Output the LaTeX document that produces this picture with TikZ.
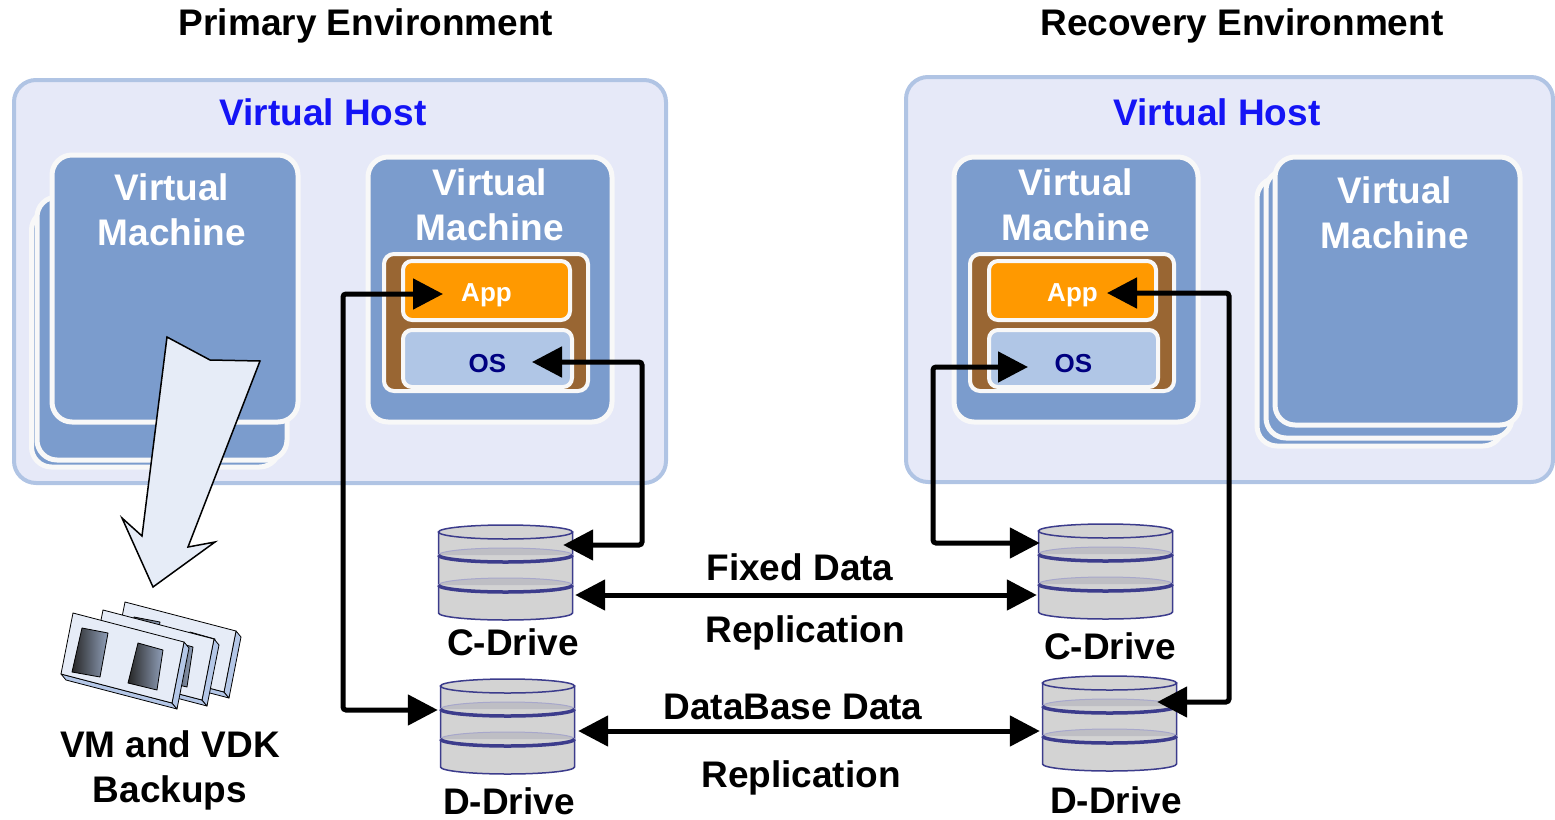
\documentclass[tikz,border=0pt]{standalone}
\usepackage{fontspec}
\setmainfont{Liberation Sans}
\usetikzlibrary{arrows.meta,calc,positioning}

\definecolor{hostfill}{RGB}{230,233,248}
\definecolor{hostedge}{RGB}{176,196,228}
\definecolor{vmblue}{RGB}{123,156,205}
\definecolor{vmedge}{RGB}{248,248,248}
\definecolor{stackbrown}{RGB}{153,102,51}
\definecolor{apporange}{RGB}{255,153,0}
\definecolor{osfill}{RGB}{176,198,230}
\definecolor{osnavy}{RGB}{0,0,128}
\definecolor{hostblue}{RGB}{20,20,245}
\definecolor{diskgrey}{RGB}{211,211,211}
\definecolor{diskband}{RGB}{190,190,196}
\definecolor{diskedge}{RGB}{60,60,140}
\definecolor{tapeface}{RGB}{230,236,247}
\definecolor{tapeside}{RGB}{180,199,231}

\newcommand{\bigfont}{\fontsize{37}{45}\selectfont\bfseries}
\newcommand{\smallfont}{\fontsize{26}{30}\selectfont\bfseries}

\tikzset{
  host/.style={draw=hostedge, fill=hostfill, line width=4pt, rounded corners=22pt},
  vmcard/.style={draw=vmedge, fill=vmblue, line width=5pt, rounded corners=20pt},
  vmtxt/.style={text=white, font=\bigfont, align=center, inner sep=0pt},
  layerbox/.style={draw=vmedge, fill=stackbrown, line width=4pt, rounded corners=10pt},
  appbox/.style={draw=vmedge, fill=apporange, line width=4pt, rounded corners=9pt,
    text=white, font=\smallfont, text height=21pt, text depth=0pt},
  osbox/.style={draw=vmedge, fill=osfill, line width=4pt, rounded corners=9pt,
    text=osnavy, font=\smallfont, text height=27pt, text depth=0pt},
  lbl/.style={font=\bigfont, inner sep=0pt, align=center},
  drivebox/.style={minimum width=135pt, minimum height=95pt, inner sep=0pt},
  dlink/.style={line width=5pt, rounded corners=3pt,
    arrows={Triangle[length=30pt,width=30pt]-Triangle[length=30pt,width=30pt]}},
  tapeline/.style={draw=black, line width=0.8pt, line join=round}
}

% disk cylinder: name, centre x, y of the top rim
\newcommand{\drive}[3]{%
  \node[drivebox] (#1) at (#2,#3-40) {};
  \begin{scope}[shift={(#2,#3)}]
    \filldraw[fill=diskgrey, draw=diskedge, line width=1.5pt]
      (-67,0) -- (-67,-81) arc[start angle=180, end angle=360, x radius=67pt, y radius=7pt]
      -- (67,0) -- cycle;
    \foreach \d in {23,53} {
      \filldraw[fill=diskband, draw=diskedge!45, line width=1pt]
        (-67,-\d) arc[start angle=180, end angle=0, x radius=67pt, y radius=7pt];
      \draw[diskedge, line width=3.5pt]
        (-67,-\d) arc[start angle=180, end angle=360, x radius=67pt, y radius=7pt];
    }
    \filldraw[fill=diskgrey, draw=diskedge, line width=1.5pt]
      (0,0) ellipse[x radius=67pt, y radius=7pt];
  \end{scope}
}

% backup cassette, shifted by #1
\newcommand{\tape}[1]{%
  \begin{scope}[shift={#1}]
    \filldraw[tapeline, fill=tapeside] (-12,-61) -- (99,-90) -- ++(5,-6) -- (-7,-67) -- cycle;
    \filldraw[tapeline, fill=tapeside] (111,-29) -- (99,-90) -- ++(5,-6) -- (116,-35) -- cycle;
    \filldraw[tapeline, fill=tapeface] (0,0) -- (111,-29) -- (99,-90) -- (-12,-61) -- cycle;
    \shade[left color=black!85, right color=black!20!tapeside]
      (9,-15) -- (35,-20) -- (27,-64) -- (-1,-59) -- cycle;
    \shade[left color=black!85, right color=black!20!tapeside]
      (65,-30) -- (90,-37) -- (84,-77) -- (55,-70) -- cycle;
    \draw[tapeline] (9,-15) -- (35,-20) -- (27,-64) -- (-1,-59) -- cycle;
    \draw[tapeline] (65,-30) -- (90,-37) -- (84,-77) -- (55,-70) -- cycle;
  \end{scope}
}

\begin{document}
\begin{tikzpicture}[x=1pt, y=1pt]
  \useasboundingbox (0,0) rectangle (1555,-819);

  % titles
  \node[lbl] (primT) at (366,-26) {Primary Environment};
  \node[lbl] (recT) at (1242,-26) {Recovery Environment};

  % hosts
  \node[host, minimum width=652pt, minimum height=403pt] (hostL) at (340,-281.5) {};
  \node[host, minimum width=647pt, minimum height=405pt] (hostR) at (1229.5,-279.5) {};
  \node[lbl, text=hostblue] (hostLt) at (323,-112) {Virtual Host};
  \node[lbl, text=hostblue] (hostRt) at (1217,-112) {Virtual Host};

  % left stack of machines
  \node[vmcard, minimum width=248pt, minimum height=257pt] (vmL2) at (155.5,-338.5) {};
  \node[vmcard, minimum width=250pt, minimum height=263pt] (vmL1) at (162,-328.5) {};
  \node[vmcard, minimum width=246pt, minimum height=267pt] (vmL) at (175,-288.5) {};
  \node[vmtxt] (vmLt) at (172,-209.5) {Virtual\\Machine};

  % right stack of machines
  \node[vmcard, minimum width=246pt, minimum height=268pt] (vmS2) at (1380,-312) {};
  \node[vmcard, minimum width=246pt, minimum height=268pt] (vmS1) at (1389,-304) {};
  \node[vmcard, minimum width=245pt, minimum height=268pt] (vmS) at (1397.5,-291) {};
  \node[vmtxt] (vmSt) at (1395,-213) {Virtual\\Machine};

  % machines running the application
  \node[vmcard, minimum width=244pt, minimum height=265pt] (vmA) at (490,-289.5) {};
  \node[vmtxt] (vmAt) at (490,-205) {Virtual\\Machine};
  \node[layerbox, minimum width=204pt, minimum height=137pt] (layL) at (486,-322.5) {};
  \node[appbox, minimum width=167pt, minimum height=59pt] (appL) at (486.5,-290.5) {App};
  \node[osbox, minimum width=169pt, minimum height=57pt] (osL) at (487.5,-358.5) {OS};

  \node[vmcard, minimum width=244pt, minimum height=265pt] (vmB) at (1076,-289.5) {};
  \node[vmtxt] (vmBt) at (1076,-205) {Virtual\\Machine};
  \node[layerbox, minimum width=204pt, minimum height=137pt] (layR) at (1072,-322.5) {};
  \node[appbox, minimum width=167pt, minimum height=59pt] (appR) at (1072.5,-290.5) {App};
  \node[osbox, minimum width=169pt, minimum height=57pt] (osR) at (1073.5,-358.5) {OS};

  % backup arrow and cassettes
  \filldraw[fill=tapeface, draw=black, line width=1.5pt]
    (167,-337) -- (210,-360) -- (260,-361) -- (188,-547) -- (215,-542)
    -- (153,-587) -- (122,-518) -- (142,-536) -- cycle;
  \tape{(125,-602)}
  \tape{(103,-610)}
  \tape{(73,-613)}
  \node[lbl] (bkT) at (170,-770) {VM and VDK\\Backups};

  % disks
  \drive{cL}{505.5}{-532}
  \drive{dL}{507.5}{-686}
  \drive{cR}{1105.5}{-531}
  \drive{dR}{1109.5}{-683}
  \node[lbl] (cLt) at (513,-642) {C-Drive};
  \node[lbl] (dLt) at (509,-801) {D-Drive};
  \node[lbl] (cRt) at (1110,-646) {C-Drive};
  \node[lbl] (dRt) at (1116,-800) {D-Drive};

  % links
  \draw[dlink] ($(appL.west)+(42,-3.5)$) -- ++(-100,0) |- ($(dL.west)+(-2,16)$);
  \draw[dlink] ($(osL.east)+(-42,-3.5)$) -- ++(110,0) |- ($(cL.east)+(-10,27)$);
  \draw[dlink] ($(osR.west)+(41,-8.5)$) -- ++(-95,0) |- ($(cR.west)+(2,28)$);
  \draw[dlink] ($(appR.east)+(-51,-2.5)$) -- ++(122,0) |- ($(dR.east)+(-20,21)$);
  \draw[dlink] ($(cL.east)+(2,-23)$) -- ($(cR.west)+(-1,-24)$);
  \draw[dlink] ($(dL.east)+(3,-5)$) -- ($(dR.west)+(-2,-8)$);

  % replication labels
  \node[lbl] (fixT) at (800,-567) {Fixed Data};
  \node[lbl] (rep1) at (805,-633) {Replication};
  \node[lbl] (dbT) at (793,-707) {DataBase Data};
  \node[lbl] (rep2) at (801,-778) {Replication};
\end{tikzpicture}
\end{document}
